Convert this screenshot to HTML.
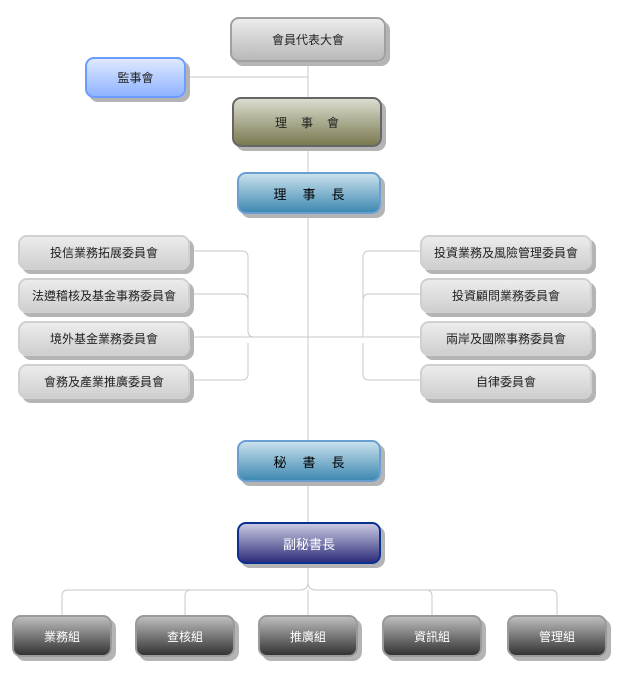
<!DOCTYPE html>
<html><head><meta charset="utf-8"><style>
body{margin:0;width:627px;height:676px;background:#fff;position:relative;overflow:hidden;font-family:"Liberation Sans","Noto Sans CJK TC",sans-serif;}
.b{position:absolute;box-sizing:border-box;border-radius:9px;display:flex;align-items:center;justify-content:center;font-size:12px;color:#222;box-shadow:4px 4px 0 #b4b4b4;}
.g{background:linear-gradient(#ececec,#cfcfcf);border:2px solid #d0d0d0;}
.gray{background:linear-gradient(#ececec,#b9b9b9);border:2px solid #a0a0a0;}
.blue{background:linear-gradient(#dfe9ff,#8fb3ff);border:2px solid #6c9cff;}
.olive{background:linear-gradient(#dcdcd0,#7a7a50);border:2px solid #666;}
.teal{background:linear-gradient(#c8e0ec,#3f89b2);border:2px solid #6b9fd2;color:#000;}
.navy{background:linear-gradient(#c9c9e2,#2e2e7a);border:2px solid #0a3090;color:#fff;}
.dark{background:linear-gradient(#bdbdbd,#333);border:2px solid #9a9a9a;color:#fff;}
svg{position:absolute;left:0;top:0}
</style></head><body>
<svg width="627" height="676" fill="none" stroke="#c8c8c8" stroke-width="1">
<path d="M308 60V440M308 482V522M308 564V582"/>
<path d="M187 77H308"/>
<path d="M190 251H242Q248 251 248 257V331Q248 337 254 337H362Q363 337 363 331V257Q363 251 369 251H420"/>
<path d="M190 294H242Q248 294 248 300V331M190 337H420M190 380H242Q248 380 248 374V343M363 300Q363 294 369 294H420M363 343V374Q363 380 369 380H420"/>
<path d="M308 582Q308 590 300 590H68Q62 590 62 596V615M308 582Q308 590 316 590H551Q557 590 557 596V615M185 615V596Q185 590 191 590M432 615V596Q432 590 426 590M308 590V615"/>
</svg>
<div class="b gray" style="left:230px;top:17px;width:156px;height:45px">會員代表大會</div>
<div class="b blue" style="left:85px;top:57px;width:101px;height:41px">監事會</div>
<div class="b olive" style="left:232px;top:97px;width:150px;height:50px;letter-spacing:14px;padding-left:14px">理事會</div>
<div class="b teal" style="left:237px;top:172px;width:144px;height:42px;font-size:13px;letter-spacing:16px;padding-left:16px">理事長</div>
<div class="b g" style="left:18px;top:235px;width:172px;height:35px">投信業務拓展委員會</div>
<div class="b g" style="left:18px;top:278px;width:172px;height:35px">法遵稽核及基金事務委員會</div>
<div class="b g" style="left:18px;top:321px;width:172px;height:35px">境外基金業務委員會</div>
<div class="b g" style="left:18px;top:364px;width:172px;height:35px">會務及產業推廣委員會</div>
<div class="b g" style="left:420px;top:235px;width:172px;height:35px">投資業務及風險管理委員會</div>
<div class="b g" style="left:420px;top:278px;width:172px;height:35px">投資顧問業務委員會</div>
<div class="b g" style="left:420px;top:321px;width:172px;height:35px">兩岸及國際事務委員會</div>
<div class="b g" style="left:420px;top:364px;width:172px;height:35px">自律委員會</div>
<div class="b teal" style="left:237px;top:440px;width:144px;height:42px;font-size:13px;letter-spacing:16px;padding-left:16px">秘書長</div>
<div class="b navy" style="left:237px;top:522px;width:144px;height:42px;font-size:13px">副秘書長</div>
<div class="b dark" style="left:12px;top:615px;width:100px;height:42px">業務組</div>
<div class="b dark" style="left:135px;top:615px;width:100px;height:42px">查核組</div>
<div class="b dark" style="left:258px;top:615px;width:100px;height:42px">推廣組</div>
<div class="b dark" style="left:382px;top:615px;width:100px;height:42px">資訊組</div>
<div class="b dark" style="left:507px;top:615px;width:100px;height:42px">管理組</div>
</body></html>
